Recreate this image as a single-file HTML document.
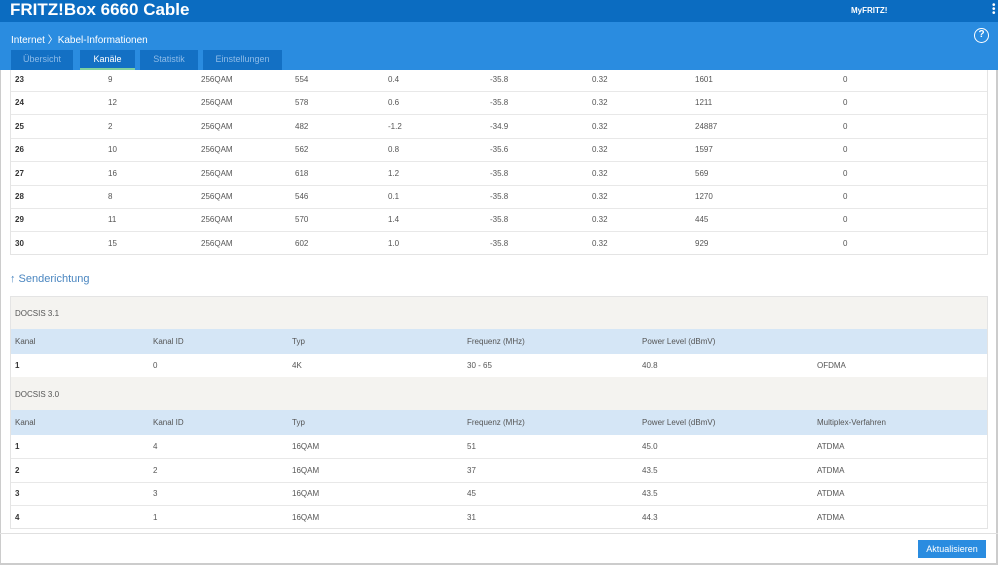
<!DOCTYPE html>
<html><head><meta charset="utf-8"><style>
*{margin:0;padding:0;box-sizing:border-box}
body{width:998px;height:565px;overflow:hidden;background:#fff;font-family:"Liberation Sans",sans-serif;position:relative;color:#444}
.a{position:absolute;white-space:nowrap}
.t{font-size:8px;color:#555}
.b{font-weight:bold;color:#333}
</style></head><body>
<div class="a" style="left:0;top:0;width:998px;height:22px;background:#0b6cc1"></div>
<div class="a" style="left:10px;top:0px;font-size:17px;font-weight:bold;color:#fff">FRITZ!Box 6660 Cable</div>
<div class="a" style="left:851px;top:6px;font-size:8px;font-weight:bold;color:#fff">MyFRITZ!</div>
<div class="a" style="left:992px;top:4px;width:3px;height:14px;color:#fff;font-size:10px;line-height:4px">•<br>•<br>•</div>
<div class="a" style="left:0;top:22px;width:998px;height:48px;background:#2a8ce0"></div>
<div class="a" style="left:11px;top:31px;font-size:10px;color:#fff">Internet 〉Kabel-Informationen</div>
<div class="a" style="left:974px;top:28px;width:15px;height:15px;border:1.5px solid #fff;border-radius:50%;color:#fff;font-size:10px;font-weight:bold;text-align:center;line-height:12px">?</div>
<div class="a" style="left:11px;top:50px;width:62px;height:20px;background:#1370c4;color:#8dbbe8;font-size:9px;text-align:center;line-height:18px">Übersicht</div>
<div class="a" style="left:80px;top:50px;width:55px;height:20px;background:#1370c4;color:#fff;font-size:9px;text-align:center;line-height:18px;border-bottom:2px solid #7ed1a0">Kanäle</div>
<div class="a" style="left:140px;top:50px;width:58px;height:20px;background:#1370c4;color:#8dbbe8;font-size:9px;text-align:center;line-height:18px">Statistik</div>
<div class="a" style="left:203px;top:50px;width:79px;height:20px;background:#1370c4;color:#8dbbe8;font-size:9px;text-align:center;line-height:18px">Einstellungen</div>
<div class="a" style="left:0;top:70px;width:1px;height:495px;background:#ccc"></div>
<div class="a" style="left:996px;top:70px;width:2px;height:495px;background:#ccc"></div>
<div class="a" style="left:10px;top:70px;width:978px;height:185px;border:1px solid #e4e4e4;border-top:none"></div>
<div id="down"></div>
<div class="a" style="left:10px;top:273px;font-size:11px;color:#4a86c0">↑ Senderichtung</div>
<div class="a" style="left:10px;top:296px;width:978px;height:233px;border:1px solid #e4e4e4"></div>
<div class="a" style="left:11px;top:297px;width:976px;height:32px;background:#f4f3f0"></div>
<div class="a" style="left:11px;top:329px;width:976px;height:25px;background:#d5e6f6"></div>
<div class="a" style="left:11px;top:377px;width:976px;height:33px;background:#f4f3f0"></div>
<div class="a" style="left:11px;top:410px;width:976px;height:25px;background:#d5e6f6"></div>
<div class="a t" style="left:15px;top:309px">DOCSIS 3.1</div>
<div class="a t" style="left:15px;top:390px">DOCSIS 3.0</div>
<div id="up"></div>
<div class="a" style="left:0;top:533px;width:998px;height:1px;background:#e0e0e0"></div>
<div class="a" style="left:0;top:563px;width:998px;height:2px;background:#ccc"></div>
<div class="a" style="left:918px;top:540px;width:68px;height:18px;background:#2a8ce0;color:#fff;font-size:9px;text-align:center;line-height:18px">Aktualisieren</div>
<script>
var d=[["23","9","256QAM","554","0.4","-35.8","0.32","1601","0"],["24","12","256QAM","578","0.6","-35.8","0.32","1211","0"],["25","2","256QAM","482","-1.2","-34.9","0.32","24887","0"],["26","10","256QAM","562","0.8","-35.6","0.32","1597","0"],["27","16","256QAM","618","1.2","-35.8","0.32","569","0"],["28","8","256QAM","546","0.1","-35.8","0.32","1270","0"],["29","11","256QAM","570","1.4","-35.8","0.32","445","0"],["30","15","256QAM","602","1.0","-35.8","0.32","929","0"]];
var xs=[15,108,201,295,388,490,592,695,843],h="";
d.forEach(function(r,i){var y=75+i*23.4;r.forEach(function(c,j){h+='<div class="a t'+(j?'':' b')+'" style="left:'+xs[j]+'px;top:'+y+'px">'+c+'</div>'});if(i<7)h+='<div class="a" style="left:11px;top:'+(y+16)+'px;width:976px;height:1px;background:#e8e8e8"></div>'});
document.getElementById("down").outerHTML=h;
var ux=[15,153,292,467,642,817];h="";
function row(r,y,bold){r.forEach(function(c,j){h+='<div class="a t'+(bold&&!j?' b':'')+'" style="left:'+ux[j]+'px;top:'+y+'px">'+c+'</div>'})}
row(["Kanal","Kanal ID","Typ","Frequenz (MHz)","Power Level (dBmV)",""],337);
row(["1","0","4K","30 - 65","40.8","OFDMA"],361,1);
row(["Kanal","Kanal ID","Typ","Frequenz (MHz)","Power Level (dBmV)","Multiplex-Verfahren"],418);
[["1","4","16QAM","51","45.0","ATDMA"],["2","2","16QAM","37","43.5","ATDMA"],["3","3","16QAM","45","43.5","ATDMA"],["4","1","16QAM","31","44.3","ATDMA"]].forEach(function(r,i){var y=442+i*23.5;row(r,y,1);if(i<3)h+='<div class="a" style="left:11px;top:'+(y+16)+'px;width:976px;height:1px;background:#e8e8e8"></div>'});
document.getElementById("up").outerHTML=h;
</script>
</body></html>
